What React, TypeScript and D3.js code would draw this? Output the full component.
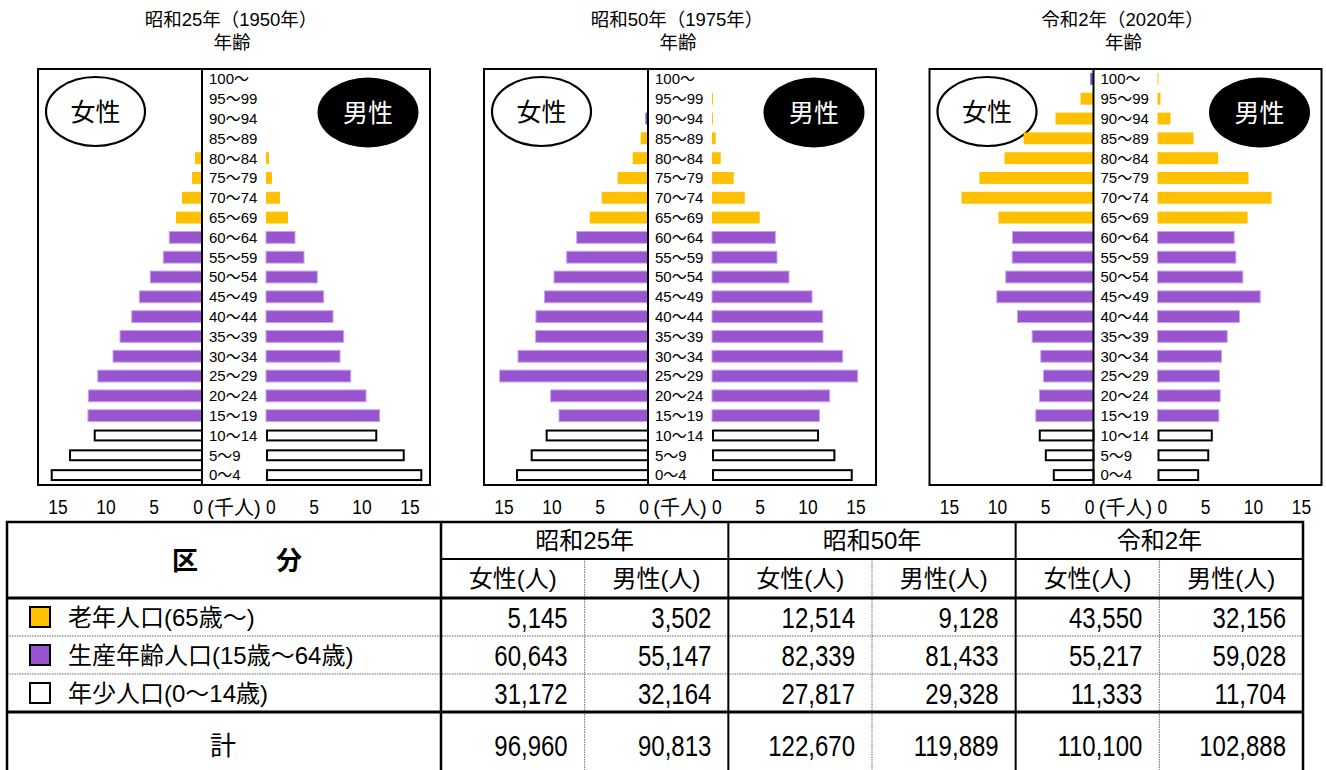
import React from "react";
import * as d3 from "d3";

// ---------- data ----------
const ageLabels = ["100～","95～99","90～94","85～89","80～84","75～79","70～74","65～69","60～64","55～59","50～54","45～49","40～44","35～39","30～34","25～29","20～24","15～19","10～14","5～9","0～4"];
const ageGroups = ["old","old","old","old","old","old","old","old","work","work","work","work","work","work","work","work","work","work","young","young","young"];
const panelTitles = ["昭和25年（1950年）", "昭和50年（1975年）", "令和2年（2020年）"];
const ageAxisTitle = "年齢";

// bar lengths (thousand persons, axis units), top (100～) to bottom (0～4)
const female1950 = [0, 0, 0, 0, 0.73, 1.04, 2.08, 2.71, 3.41, 4.03, 5.39, 6.53, 7.32, 8.54, 9.27, 10.86, 11.84, 11.88, 11.28, 13.85, 15.76];
const male1950 = [0, 0, 0, 0, 0.31, 0.63, 1.46, 2.29, 3.02, 3.96, 5.34, 6.01, 6.98, 8.09, 7.71, 8.82, 10.42, 11.84, 11.59, 14.45, 16.28];
const female1975 = [0, 0, 0.27, 0.76, 1.59, 3.16, 4.82, 6.07, 7.43, 8.47, 9.79, 10.79, 11.67, 11.7, 13.54, 15.45, 10.14, 9.27, 10.66, 12.22, 13.75];
const male1975 = [0, 0.1, 0.1, 0.39, 0.91, 2.26, 3.41, 4.97, 6.6, 6.77, 8.02, 10.42, 11.53, 11.56, 13.61, 15.18, 12.26, 11.19, 11.15, 12.85, 14.66];
const female2020 = [0.34, 1.35, 3.96, 7.29, 9.27, 11.88, 13.75, 9.9, 8.44, 8.47, 9.14, 10.07, 7.92, 6.39, 5.49, 5.21, 5.63, 6.01, 5.7, 5.07, 4.24];
const male2020 = [0.1, 0.31, 1.35, 3.75, 6.32, 9.48, 11.88, 9.38, 7.99, 8.16, 8.89, 10.7, 8.54, 7.26, 6.67, 6.46, 6.53, 6.39, 5.76, 5.39, 4.34];
// thin female bars drawn in a bluish tint: [panel, age]
const tintedFemaleBars: [number, string][] = [[1, "90～94"], [2, "100～"]];

const axisTicks = [0, 5, 10, 15];
const axisUnit = "(千人)";
const femaleLabel = "女性";
const maleLabel = "男性";

// table
const tableHeadLabel = "区　　　分";
const tableYears = ["昭和25年", "昭和50年", "令和2年"];
const tableSexes = ["女性(人)", "男性(人)"];
const tableCategories = ["老年人口(65歳～)", "生産年齢人口(15歳～64歳)", "年少人口(0～14歳)"];
const categoryKeys = ["old", "work", "young"];
const elderlyCounts = [5145, 3502, 12514, 9128, 43550, 32156];
const workingCounts = [60643, 55147, 82339, 81433, 55217, 59028];
const youngCounts = [31172, 32164, 27817, 29328, 11333, 11704];
const totalLabel = "計";
const totalCounts = [96960, 90813, 122670, 119889, 110100, 102888];

// ---------- styles ----------
const FONT = "'Liberation Sans', 'Noto Sans CJK JP', sans-serif";
const CJK = "'Noto Sans CJK JP', sans-serif";
const COLORS: Record<string, string> = { old: "#FFC000", work: "#9955CF", young: "#FFFFFF" };
const TINT = "#6A5ACD";

function SText({ x, y, sx = 1, anchor = "start", size, fill = "#000", family = FONT, weight = "normal", children }: any) {
  return (
    <text
      transform={`translate(${x},${y}) scale(${sx},1)`}
      textAnchor={anchor}
      fontSize={size}
      fill={fill}
      fontFamily={family}
      fontWeight={weight}
    >
      {children}
    </text>
  );
}

export default function App() {
  const panels = [
    { title: panelTitles[0], female: female1950, male: male1950 },
    { title: panelTitles[1], female: female1975, male: male1975 },
    { title: panelTitles[2], female: female2020, male: male2020 },
  ];
  const panelOffsets = [0, 446, 891.5];
  const boxL = 38, boxR = 430, boxT = 69, boxB = 485, cx0 = 202, rz0 = 266;
  const pxPerUnit = 9.6;
  const half = boxR - rz0;
  const maxV = half / pxPerUnit;

  const yBand = d3.scaleBand<string>().domain(ageLabels).range([boxT, boxB]).paddingInner(0.4).paddingOuter(0.2);
  const bw = yBand.bandwidth();

  // table layout
  const tL = 7, tR = 1303, tT = 522, col1R = 441;
  const yearBand = d3.scaleBand<string>().domain(tableYears).range([col1R, tR]);
  const subW = yearBand.bandwidth() / 2;
  const headSplit = 559, headBottom = 598, rowH = 38;
  const rowY = d3.scaleBand<string>().domain(tableCategories).range([headBottom, headBottom + rowH * 3]);
  const totalTop = headBottom + rowH * 3;
  const totalCenter = 745;
  const categoryCounts = [elderlyCounts, workingCounts, youngCounts];
  const fmt = d3.format(",");

  const cellRight = (i: number) => {
    const yr = tableYears[Math.floor(i / 2)];
    return (yearBand(yr) as number) + subW * ((i % 2) + 1) - 17;
  };

  return (
    <svg width={1326} height={770} style={{ position: "absolute", left: 0, top: 0, background: "#fff" }}>
      <rect x={0} y={0} width={1326} height={770} fill="#fff" />
      {panels.map((p, pi) => {
        const o = panelOffsets[pi];
        const cx = cx0 + o, rz = rz0 + o;
        const xF = d3.scaleLinear().domain([0, maxV]).range([cx, cx - (cx0 - boxL)]);
        const xM = d3.scaleLinear().domain([0, maxV]).range([rz, rz + half]);
        const titleX = o + 231;
        return (
          <g key={pi}>
            <SText x={titleX} y={26} anchor="middle" size={18.5}>{p.title}</SText>
            <SText x={titleX + 1} y={49} anchor="middle" size={18.5}>{ageAxisTitle}</SText>
            <rect x={boxL + o} y={boxT} width={boxR - boxL} height={boxB - boxT} fill="#fff" stroke="#000" strokeWidth={2} />
            <ellipse cx={boxL + o + 57.5} cy={111.5} rx={49.5} ry={34.5} fill="#fff" stroke="#000" strokeWidth={2.2} />
            <SText x={boxL + o + 57.5} y={111.5 + 9.5} anchor="middle" size={25} family={CJK}>{femaleLabel}</SText>
            <ellipse cx={boxR + o - 62} cy={112.5} rx={50.5} ry={35} fill="#000" />
            <SText x={boxR + o - 62} y={112.5 + 9.5} anchor="middle" size={25} family={CJK} fill="#fff">{maleLabel}</SText>
            {ageLabels.map((a, i) => {
              const g = ageGroups[i];
              const y0 = yBand(a) as number;
              const vf = p.female[i], vm = p.male[i];
              const tinted = tintedFemaleBars.some(([pp, aa]) => pp === pi && aa === a);
              const fFill = tinted ? TINT : COLORS[g];
              const stroke = g === "young" ? "#000" : g === "work" ? "#C6A6EA" : "none";
              const sw = g === "young" ? 2 : 1;
              const inset = g === "young" ? 1 : 0;
              return (
                <g key={a}>
                  {vf > 0 && (
                    <rect x={xF(vf) + inset} y={y0 + inset} width={Math.max(0.6, cx - xF(vf) - inset)} height={bw - 2 * inset}
                      fill={fFill} stroke={tinted ? "none" : stroke} strokeWidth={sw} />
                  )}
                  {vm > 0 && (
                    <rect x={rz + inset} y={y0 + inset} width={Math.max(0.6, xM(vm) - rz - 2 * inset)} height={bw - 2 * inset}
                      fill={COLORS[g]} stroke={vm < 0.5 ? "none" : stroke} strokeWidth={sw} />
                  )}
                  <SText x={cx + 7} y={y0 + bw / 2 + 5.4} size={15}>{a}</SText>
                </g>
              );
            })}
            <line x1={cx} x2={cx} y1={boxT} y2={boxB} stroke="#000" strokeWidth={2} />
            {axisTicks.map((t) => (
              <SText key={"f" + t} x={t === 0 ? xF(t) + 1 : xF(t)} y={514} anchor={t === 0 ? "end" : "middle"} size={20} sx={0.87}>{t}</SText>
            ))}
            {axisTicks.map((t) => (
              <SText key={"m" + t} x={t === 0 ? xM(t) : xM(t)} y={514} anchor={t === 0 ? "start" : "middle"} size={20} sx={0.87}>{t}</SText>
            ))}
            <SText x={(cx + rz) / 2} y={514.5} anchor="middle" size={20}>{axisUnit}</SText>
          </g>
        );
      })}

      {/* ---------- table ---------- */}
      <g>
        {/* dotted lines */}
        {tableCategories.slice(1).map((c) => (
          <line key={c} x1={tL} x2={tR} y1={rowY(c) as number} y2={rowY(c) as number} stroke="#666" strokeWidth={1} strokeDasharray="1.5 1" />
        ))}
        {tableYears.map((yr) => (
          <line key={yr} x1={(yearBand(yr) as number) + subW} x2={(yearBand(yr) as number) + subW} y1={headSplit} y2={800}
            stroke="#666" strokeWidth={1} strokeDasharray="1.5 1" />
        ))}
        <rect x={tL} y={tT} width={tR - tL} height={300} fill="none" stroke="#000" strokeWidth={2.5} />
        <line x1={col1R} x2={col1R} y1={tT} y2={800} stroke="#000" strokeWidth={2.5} />
        {tableYears.slice(1).map((yr) => (
          <line key={yr} x1={yearBand(yr) as number} x2={yearBand(yr) as number} y1={tT} y2={800} stroke="#000" strokeWidth={2} />
        ))}
        <line x1={col1R} x2={tR} y1={headSplit} y2={headSplit} stroke="#000" strokeWidth={2} />
        <line x1={tL} x2={tR} y1={headBottom} y2={headBottom} stroke="#000" strokeWidth={3} />
        <line x1={tL} x2={tR} y1={totalTop} y2={totalTop} stroke="#000" strokeWidth={3} />

        <SText x={237} y={560 + 10} anchor="middle" size={26} family={CJK} weight="bold">{tableHeadLabel}</SText>
        {tableYears.map((yr) => (
          <SText key={yr} x={(yearBand(yr) as number) + yearBand.bandwidth() / 2} y={540.5 + 8.8} anchor="middle" size={24}>{yr}</SText>
        ))}
        {tableYears.map((yr) =>
          tableSexes.map((s, si) => (
            <SText key={yr + s} x={(yearBand(yr) as number) + subW * (si + 0.5)} y={578.5 + 8.8} anchor="middle" size={24}>{s}</SText>
          ))
        )}
        {tableCategories.map((c, ci) => {
          const cy = (rowY(c) as number) + rowH / 2;
          return (
            <g key={c}>
              <rect x={30} y={cy - 10} width={20} height={20} fill={COLORS[categoryKeys[ci]]} stroke="#000" strokeWidth={2} />
              <SText x={68} y={cy + 8.8} size={24}>{c}</SText>
              {categoryCounts[ci].map((v, i) => (
                <SText key={i} x={cellRight(i)} y={cy + 10.7} anchor="end" size={30} sx={0.8}>{fmt(v)}</SText>
              ))}
            </g>
          );
        })}
        <SText x={223} y={totalCenter + 10} anchor="middle" size={26} family={CJK}>{totalLabel}</SText>
        {totalCounts.map((v, i) => (
          <SText key={i} x={cellRight(i)} y={totalCenter + 10.7} anchor="end" size={30} sx={0.8}>{fmt(v)}</SText>
        ))}
      </g>
    </svg>
  );
}
